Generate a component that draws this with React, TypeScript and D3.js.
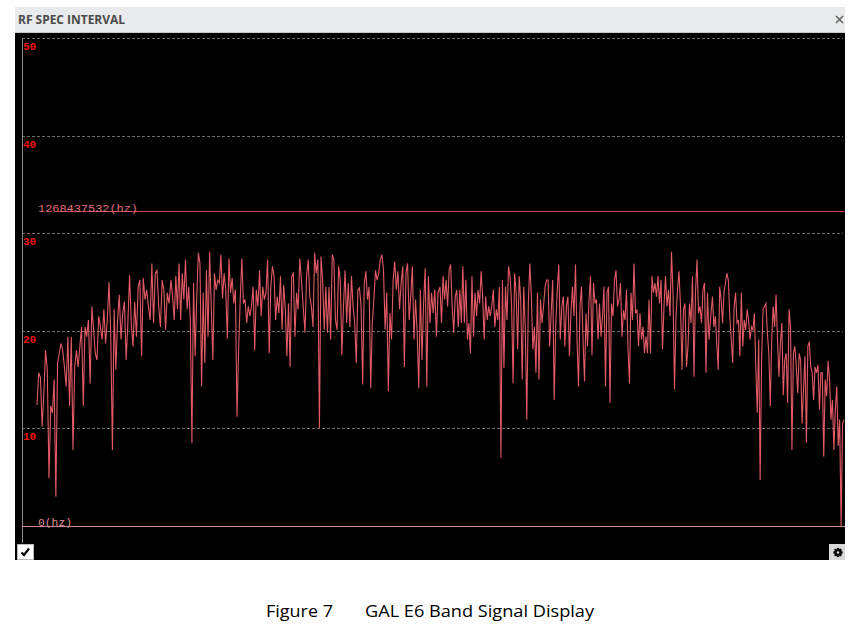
import React from "react";
import * as d3 from "d3";

// Y tick labels (dB-like units)
const Y_TICKS = [10, 20, 30, 40, 50];
// Frequency marker lines: value on y axis and label
const MARKER_VALUES = [32.3, 0];
const MARKER_LABELS = ["1268437532(hz)", "0(hz)"];

// Spectrum sweep segments: [start bin, end bin]
const SEG_BINS: [number, number][] = [
  [15, 147],
  [149, 281],
  [283, 416],
  [418, 552],
  [553.5, 687],
  [689, 822],
];
const TOTAL_BINS = 822;

const SEG1 = [12.4,15.7,15.2,10.2,13.6,18,16,4.9,12.3,11.6,
  15,3.0,16.7,17.7,18.7,18,16.3,14.3,19.4,12.3,
  19.4,7.8,16.3,18,16.3,18.4,20.4,12.3,20.4,19.4,
  21.1,14.6,22.5,20.1,17.7,17,21.5,20.4,19.1,22.2,
  18.7,21.1,25,19.8,7.8,22.2,16,21.1,23.7,19.1,
  21.8,23,17,20.8,25.7,20.8,18.4,23,19.4,24.5,
  25.2,17.4,25.4,23.2,24.2,22.5,21.1,26.9,20.8,25.9,
  26.2,22.5,20.4,25.2,24.2,20.1,23.9,22.8];
const SEG2 = [25.2,23.5,21.1,25.6,22.2,26.9,21.1,25.9,23.2,27.3,
  22.2,24.5,21.1,8.5,24.9,17.4,23.5,28,26.9,14.3,
  23.9,16.7,26.2,19.4,28.1,22.5,17,25.9,24.2,25.2,
  24.9,27.8,23.3,25.9,24.2,19.2,27.4,23.9,25.4,22.8,
  24.2,11.2,18,23.2,27.4,22.8,23.2,20.8,22.5,21.5,
  22.5,24.5,18,24.2,22.5,26.2,21.5,24.5,23.2,23.9,
  27.3,17.7,24.5,26.6,25.6,21.1,23.5,21.8,25.6,20.1,
  24.7,22.2,17.4,22.8,16.3,25.6,25.9,19.4,23.9,22.2,
  27.4,25.2,22.8];
const SEG3 = [19.8,25.6,27.3,23.5,22.5,20.4,28,25.9,27.3,10.0,
  27.6,25.2,20.1,24.5,19.8,24.5,19.1,27.8,27.3,21.1,
  20.1,26.6,25.2,17.5,22.5,26.2,20.8,24.9,20.4,25.6,
  22.5,20.8,16.7,24.2,24.4,22.5,14.5,24.9,26.1,23.2,
  24.5,14.1,20.8,23.2,26.2,25.2,25.9,27.3,27.8,26.2,
  20.1,23.9,13.8,21.8,19.1,25.2,27.1,24.2,26.1,22.2,
  24.9,26.6,16.3,25.9,26.9,21.1,23.5,26.6,19.1,23.2,
  19.8,14.1,24.2,17,22.8,26.4,14.3,25.6,20.8,23.9,
  21.8,24.2,19.4,23.9];
const SEG4 = [24.5,20.8,25.6,23.2,25.2,22.5,26.2,26.8,22.5,19.8,
  23.5,24.2,20.4,24.2,20.8,26.6,20.8,25.2,19.1,20.8,
  17.7,25.6,19.4,23.9,21.5,24.2,22.8,26.1,23.5,19.1,
  23.5,21.1,22.5,21.5,22.5,24.2,20.4,22.2,21.1,24.5,
  7.0,25.2,16.2,24.5,21.1,26.6,25.6,22.8,14.6,25.9,
  23.9,18.1,25.6,23.2,15,24.5,20.4,10.9,22.8,26.9,
  23.5,18.1,20.4,15.7,23.9,15,23.2,20.8,22.5,24.5,
  25.2,25.2,18.4,21.8,25.2,12.9,20.4,24.2,26.8,19.1,
  22.5,23.5,18.4,22.5,23.5,17.4,21.8,24.5,21.5];
const SEG5 = [26.8,19.1,14.3,22.5,24.5,19.1,14.8,21.8,18.4,23.2,
  25.6,17.5,24.9,22.8,23.2,19.1,22.8,19.4,21.5,24.5,
  14.3,23.9,24.5,12.6,22.8,21.5,25.2,26.2,22.5,23.2,
  24.9,19.4,22.1,21.1,24.2,18.1,14.6,23.9,21.1,26.9,
  21.8,22.2,18.4,21.8,19.1,20.4,17.7,19.4,17.7,23.2,
  17.7,25.6,23.9,24.9,23.5,25.6,22.8,25.2,18.1,22.5,
  25.6,22.5,24.2,21.5,28.1,23.9,14,21.5,24.2,26.1,
  22.5,16,22.2,22.8,16.3,18.4,22.8,20.8,25.6,15.3,
  23.9,27.3,21.8,22.5,20.8,24.2,24.9,15.7,23.9,19.1];
const SEG6 = [21.8,23.5,20.4,21.5,18.7,16,24.5,23.2,20.8,23.9,
  24.9,25.9,25.2,21.5,19.1,16.7,22.5,23.9,20.8,21.1,
  17.4,23.9,18.4,21.1,20.1,22.2,21.1,19.1,20.4,20.1,
  21.8,16.3,11.6,19.1,4.7,17,22.2,22.5,22.8,19.8,
  17.7,12.3,19.1,22.5,20.4,23.7,19.1,15.3,18.7,20.8,
  13.4,17,17.7,12.6,22.2,20.4,7.8,17.7,18.4,16.3,
  13.6,17.7,17,10.5,14,17.4,8.5,18.4,18.9,16.3,
  15.7,12.9,16.3,15.7,16.5,11.9,15.7,15.7,7.1,15,
  13.3,16.9,15,10.9,12.9,7.8,11.9,14.3,8.2,10.9,
  0,10.5,10.9];
const SEGMENTS = [SEG1, SEG2, SEG3, SEG4, SEG5, SEG6];

const W = 861;
const H = 633;
const panel = { left: 15, right: 845, top: 7, titleBottom: 32, bottom: 560 };
const plot = { left: 22, right: 844, top: 38, bottom: 526 };

export default function App() {
  const x = d3.scaleLinear().domain([0, TOTAL_BINS]).range([plot.left, plot.right]);
  const y = d3.scaleLinear().domain([0, 50]).range([plot.bottom, plot.top]);

  const points: [number, number][] = [];
  SEGMENTS.forEach((seg, si) => {
    const [b0, b1] = SEG_BINS[si];
    const step = (b1 - b0) / (seg.length - 1);
    seg.forEach((v, i) => points.push([b0 + i * step, v]));
  });
  const line = d3
    .line<[number, number]>()
    .x((d) => x(d[0]))
    .y((d) => y(d[1]));

  const gearTeeth = d3.range(8).map((i) => i * 45);

  return (
    <svg
      width={W}
      height={H}
      style={{ position: "absolute", left: 0, top: 0, background: "#fff" }}
    >
      {/* title bar */}
      <rect x={panel.left} y={panel.top} width={panel.right - panel.left} height={panel.titleBottom - panel.top} fill="#e9eaeb" />
      <line x1={panel.left} x2={panel.right} y1={panel.titleBottom + 0.5} y2={panel.titleBottom + 0.5} stroke="#c8c8c8" />
      <text x={18} y={24} fontFamily="'Open Sans', 'Noto Sans', sans-serif" fontWeight={700} fontSize={12} fill="#4a4a4a" textLength={107} lengthAdjust="spacingAndGlyphs">
        RF SPEC INTERVAL
      </text>
      <g stroke="#666" strokeWidth={1.6}>
        <line x1={836} y1={16} x2={843} y2={23} />
        <line x1={843} y1={16} x2={836} y2={23} />
      </g>

      {/* black plot area */}
      <rect x={panel.left} y={panel.titleBottom + 1} width={panel.right - panel.left} height={panel.bottom - panel.titleBottom - 1} fill="#000" />

      {/* grid lines */}
      {Y_TICKS.map((t) => (
        <g key={t}>
          <line x1={plot.left} x2={plot.right - 1} y1={Math.round(y(t)) + 0.5} y2={Math.round(y(t)) + 0.5} stroke="#6c6c6c" strokeDasharray="3,2" strokeWidth={1} />
          <text x={23} y={y(t) + 12} fontFamily="'Liberation Mono', 'DejaVu Sans Mono', monospace" fontWeight={700} fontSize={11} fill="#f01010">
            {t}
          </text>
        </g>
      ))}

      {/* left axis */}
      <line x1={plot.left + 0.5} x2={plot.left + 0.5} y1={plot.top + 1} y2={543} stroke="#8c8c8c" strokeWidth={1} />

      {/* marker lines */}
      <line x1={58} x2={panel.right} y1={Math.round(y(MARKER_VALUES[0])) + 0.5} y2={Math.round(y(MARKER_VALUES[0])) + 0.5} stroke="#d04454" strokeWidth={1} />
      <text x={38} y={y(MARKER_VALUES[0]) + 1} fontFamily="'Liberation Mono', 'DejaVu Sans Mono', monospace" fontSize={11.5} fill="#e0707c" textLength={100} lengthAdjust="spacingAndGlyphs">
        {MARKER_LABELS[0]}
      </text>
      <line x1={plot.left} x2={panel.right} y1={Math.round(y(MARKER_VALUES[1])) + 0.5} y2={Math.round(y(MARKER_VALUES[1])) + 0.5} stroke="#c98a8a" strokeWidth={1} />
      <text x={38} y={y(MARKER_VALUES[1]) + 0} fontFamily="'Liberation Mono', 'DejaVu Sans Mono', monospace" fontSize={11.5} fill="#d89090" textLength={34} lengthAdjust="spacingAndGlyphs">
        {MARKER_LABELS[1]}
      </text>

      {/* spectrum trace */}
      <path d={line(points) || ""} fill="none" stroke="#e25a66" strokeWidth={1.1} strokeLinejoin="miter" />

      {/* checkbox */}
      <rect x={17.5} y={544.5} width={16} height={15} fill="#fff" stroke="#bbb" />
      <path d="M21.5,552.5 L24,555 L29,548.5" fill="none" stroke="#000" strokeWidth={2.2} />

      {/* gear button */}
      <rect x={829} y={544} width={16} height={16} fill="#d8d8d8" />
      <g transform="translate(838,552.5)">
        {gearTeeth.map((a) => (
          <rect key={a} x={-1.2} y={-4.6} width={2.4} height={2.4} fill="#000" transform={`rotate(${a})`} />
        ))}
        <circle r={3.2} fill="#000" />
        <circle r={1.3} fill="#d8d8d8" />
      </g>

      {/* caption */}
      <text x={266} y={617} fontFamily="'Open Sans', 'Noto Sans', sans-serif" fontSize={16} fill="#000" textLength={67} lengthAdjust="spacingAndGlyphs">
        Figure 7
      </text>
      <text x={365} y={617} fontFamily="'Open Sans', 'Noto Sans', sans-serif" fontSize={16} fill="#000" textLength={229} lengthAdjust="spacingAndGlyphs">
        GAL E6 Band Signal Display
      </text>
    </svg>
  );
}
